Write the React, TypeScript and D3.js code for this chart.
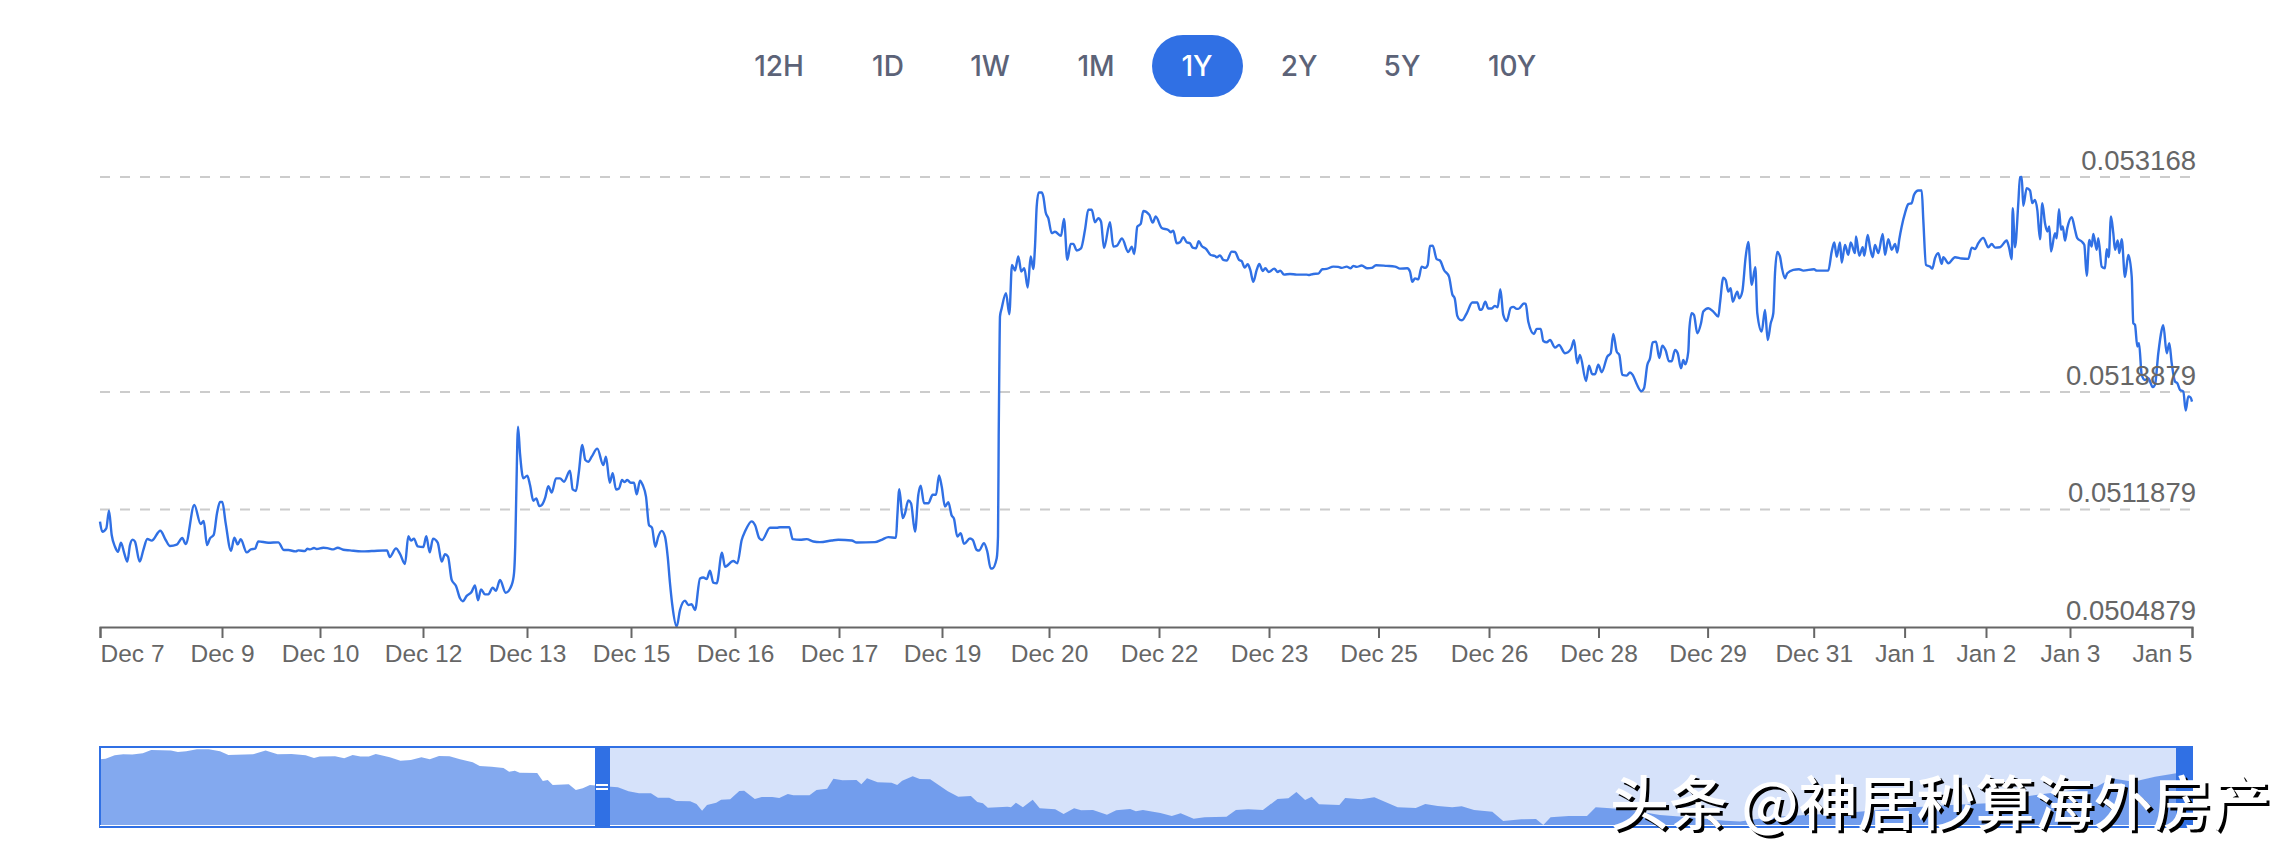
import { useEffect, useRef } from "react";
import * as d3 from "d3";

const ranges = ["12H", "1D", "1W", "1M", "1Y", "2Y", "5Y", "10Y"];
const activeRange = "1Y";
const yTicks = [0.0504879, 0.0511879, 0.0518879, 0.053168];
const yTickLabels = ["0.0504879", "0.0511879", "0.0518879", "0.053168"];

// x is in steps of about 20 minutes since the start of the window
const xTicks = [0, 122, 220, 323, 427, 531, 635, 739, 842, 949, 1059, 1169, 1278.5, 1389, 1498.5, 1607.6, 1713.7, 1804.6, 1886, 1970, 2092];
const xTickLabels = ["Dec 7", "Dec 9", "Dec 10", "Dec 12", "Dec 13", "Dec 15", "Dec 16", "Dec 17", "Dec 19", "Dec 20", "Dec 22", "Dec 23", "Dec 25", "Dec 26", "Dec 28", "Dec 29", "Dec 31", "Jan 1", "Jan 2", "Jan 3", "Jan 5"];

// [step, rate in millionths]
const rateDec7 = [[0,51115],[2.3,51055],[6.3,51075],[9,51180],[11.7,51036],[15,50966],[18,50936],[21,50990],[24.3,50926],[27.3,50877],[30,50976],[32.7,51008],[35,50996],[39.7,50877],[43.3,50946],[47.3,51012],[51.7,51002],[60.3,51061],[65.7,51006],[70,50970],[76.7,50978],[82.3,51018],[85.7,50982],[94.3,51214],[100.7,51101],[103.7,51119],[107,50976],[110,51016],[113.7,51036],[117,51165],[120,51232],[122.3,51232],[125.7,51105],[131,50942],[134.3,51020],[137.7,50980],[140.7,51010],[146.7,50932],[151,50950],[155,50954],[158.3,50998],[168.3,50990],[178.3,50992],[184,50946],[188.3,50946],[195.7,50938],[198.3,50944],[205,50940],[207.3,50954],[210,50950],[214,50958],[216.7,50952],[223.3,50960],[228.3,50956],[233.3,50950],[237.7,50960],[243.3,50948],[250,50944],[261.7,50938],[271.7,50940],[287,50944],[289.7,50905],[296,50956],[300,50923],[305,50863],[308.3,51028],[311,51002],[314,51014],[317.7,50968],[323.3,50964],[326.3,51028],[329.7,50932],[333,51014],[337.7,50990],[341.7,50877]];
const rateDec12 = [[345,50921],[348,50907],[351.7,50768],[356,50732],[360,50659],[362.7,50641],[366.7,50673],[371.7,50698],[375,50736],[378,50647],[381,50712],[385,50682],[388.3,50682],[392.7,50722],[396,50704],[400,50768],[405.7,50692],[411.7,50738],[414,50807],[415.3,50986],[416.3,51284],[418,51681],[420,51522],[423.3,51373],[427.3,51389],[430,51333],[433.3,51240],[436.3,51254],[439.3,51208],[441.7,51214],[445.3,51260],[448.3,51327],[451.7,51288],[456,51373],[460,51373],[464,51353],[470,51419],[472.7,51307],[476,51298],[478.7,51403],[482.3,51572],[485.3,51482],[488.3,51472],[491.7,51502],[497.3,51550],[503.3,51452],[506,51502],[509.7,51347],[512.7,51403],[516,51307],[519,51313],[522,51363],[524.3,51351],[527.3,51363],[530.7,51347],[534,51347],[536.7,51278],[540,51359],[542.7,51333],[546,51264],[549,51095],[552,51079],[555.3,50966],[558.3,51026],[561.7,51060],[565,51026],[567.7,50907],[570,50748],[572.3,50619],[576.7,50490],[580,50589],[585,50645],[588.3,50619],[591.7,50623],[595,50589],[600,50777],[603.3,50783],[606.7,50773],[610,50823],[613.3,50752],[616.7,50748],[622,50930],[625,50847],[633.3,50881],[637.3,50867],[641.7,51006],[645,51056],[651.7,51117],[655,51095],[659.3,51016],[662,51006],[670,51079],[676.7,51079]];
const rateDec16 = [[680,51082],[689.3,51082],[692.7,51011],[700,51007],[706.7,51011],[713.3,50997],[720,50993],[731.7,51003],[738.3,51007],[751.7,51003],[756.7,50991],[775,50993],[781.7,51007],[788.3,51023],[796,51019],[797.3,51146],[799.3,51308],[802.7,51136],[805,51165],[808.3,51241],[811,51225],[815,51056],[818.3,51275],[820.7,51330],[824,51225],[828.3,51225],[832.7,51275],[836,51275],[839,51390],[841.7,51324],[845,51205],[848.3,51231],[851.7,51152],[854,51132],[857.3,51026],[860.7,51046],[864,50983],[870,51015],[872.7,51007],[876.7,50947],[879,50943],[884,50987],[887.3,50937],[890.7,50836],[892.3,50836],[896.7,50897],[898,51026],[898.7,51622],[899.3,52019],[900,52337],[901.7,52386],[906,52476],[909.3,52350],[912,52644],[915,52611],[918.3,52694],[921.3,52605],[924.3,52624],[927.7,52509],[930.7,52694],[933.3,52620],[935,52753],[936.7,52992],[938.7,53075],[941.7,53075],[943.3,53051],[945.7,52956],[948.3,52922],[951.7,52833],[955,52841],[961,52817],[964,52918],[967.3,52674],[970.7,52769],[973.3,52769],[976.7,52730],[981,52742],[985,52853],[988.3,52972],[991.7,52972],[995,52898],[998.3,52922],[1001,52902],[1004,52744],[1010,52898],[1013.3,52753],[1016.7,52757],[1022,52801],[1028.3,52720]];
const rateDec22 = [[1031.7,52753],[1034.3,52709],[1037.3,52872],[1040.7,52888],[1043.3,52965],[1049.3,52942],[1052.7,52896],[1055.7,52932],[1061.7,52864],[1068.3,52852],[1070.7,52838],[1073.3,52848],[1076.7,52773],[1080,52779],[1083.3,52809],[1086.7,52779],[1090,52773],[1092.7,52747],[1096,52743],[1098.7,52785],[1101.7,52757],[1106,52739],[1110.7,52703],[1115,52697],[1116.7,52689],[1120,52701],[1123.3,52674],[1126.7,52670],[1131.7,52723],[1135,52721],[1139,52674],[1141.7,52666],[1144.7,52628],[1147.7,52648],[1150.3,52614],[1153.3,52543],[1156.7,52614],[1159.3,52650],[1162.7,52608],[1165.3,52624],[1168.7,52602],[1174.3,52622],[1177.7,52602],[1180.3,52610],[1184,52586],[1190,52590],[1196.7,52586],[1206.7,52586],[1209.3,52584],[1213.3,52590],[1218.3,52592],[1222.3,52618],[1226.7,52620],[1233.3,52634],[1238.3,52632],[1241.7,52626],[1246.7,52634],[1250.7,52624],[1253.3,52638],[1256.7,52632],[1261.7,52640],[1267.3,52624],[1271.7,52626],[1276,52642],[1286.7,52638],[1295,52634],[1300,52622],[1307.3,52624],[1310,52604],[1312.3,52543],[1315,52564],[1318.3,52558],[1321.7,52634],[1325,52626],[1327.7,52644],[1330,52757],[1332.7,52759],[1336.7,52678],[1340,52670],[1344,52614],[1349,52574],[1352.3,52469],[1354.7,52445],[1357.3,52340],[1360,52316],[1362,52314],[1366.7,52356],[1372.3,52420],[1377.3,52420],[1380,52376],[1382,52380],[1385.3,52425],[1388.3,52384],[1391.7,52384],[1394.7,52400],[1397.7,52392],[1400.3,52499],[1403.3,52346],[1406.7,52310],[1410.7,52388],[1413.3,52394],[1416.7,52382]];
const rateDec26 = [[1418.3,52382],[1424,52414],[1425.7,52412],[1428.3,52306],[1434,52233],[1436.7,52263],[1440.7,52263],[1443.3,52191],[1446.7,52183],[1450,52197],[1455,52152],[1459,52167],[1465,52118],[1471,52144],[1474,52195],[1477.3,52058],[1480,52108],[1486,51953],[1489,52044],[1492.3,51993],[1495,51993],[1498.3,52050],[1501.7,52005],[1507.3,52098],[1510.7,52118],[1513.3,52233],[1516.7,52128],[1519.3,52108],[1522.3,51989],[1526.7,51985],[1530,52003],[1532.7,51989],[1536.7,51935],[1541.3,51892],[1544,51909],[1547.3,52048],[1550,52088],[1552.7,52183],[1556,52187],[1559.3,52090],[1562.3,52163],[1565.7,52134],[1569,52070],[1571.7,52070],[1575,52138],[1577.7,52118],[1581,52028],[1583.3,52078],[1585.3,52052],[1588.3,52128],[1589.3,52257],[1591.7,52356],[1594,52346],[1597.3,52237],[1601,52296],[1603.3,52366],[1608.3,52386],[1613.3,52366],[1618.3,52336],[1620,52416],[1623.3,52568],[1625.7,52554],[1628.3,52485],[1630.7,52505],[1632.7,52425],[1637.3,52485],[1639.3,52445],[1642.3,52485],[1645.7,52693],[1648.3,52781],[1651.7,52525],[1655.3,52630],[1657.3,52356],[1661.7,52247],[1665,52376],[1667.7,52197],[1670.7,52296],[1673.3,52356],[1675,52594],[1677.3,52721],[1680,52693],[1682,52624],[1685,52564],[1687.3,52594],[1693.3,52614],[1699,52618],[1703.3,52610],[1714,52618],[1716.7,52610],[1728.3,52610],[1731.7,52723],[1734.3,52777],[1736.7,52693],[1740,52777]];
const rateDec31 = [[1741.7,52658],[1745,52763],[1748.3,52704],[1750.7,52777],[1755,52714],[1756,52813],[1759.3,52698],[1762.7,52749],[1764.3,52698],[1767.7,52823],[1770,52749],[1772.7,52690],[1775,52763],[1778.3,52714],[1782.7,52829],[1785,52704],[1788.3,52797],[1791.7,52734],[1795,52769],[1797.3,52718],[1799.3,52797],[1801.7,52873],[1805,52952],[1808.3,53006],[1811.7,53012],[1814,53061],[1818.3,53087],[1821.7,53087],[1823.3,52912],[1826,52644],[1830,52634],[1832.3,52622],[1835,52684],[1838.3,52714],[1841.7,52650],[1843.3,52690],[1848.3,52654],[1855,52690],[1861.7,52682],[1868.3,52680],[1871.7,52747],[1875,52738],[1878.3,52773],[1883.3,52805],[1888.3,52749],[1891.7,52769],[1895,52747],[1900,52749],[1906.7,52789],[1909,52749],[1911.7,52678],[1912.7,52982],[1915,52749],[1918.3,53012],[1920,53166],[1921.7,53168],[1923.3,52996],[1926.7,53101],[1930,53087],[1932.3,53012],[1935,53031],[1937.3,52972],[1940,52797],[1942.3,53012],[1945,52892],[1947.3,52843],[1949.3,52873],[1951,52724],[1955,52833],[1956.7,52803],[1959,52976],[1961,52853],[1962.7,52873],[1965,52789],[1967.3,52863],[1971.7,52928],[1975,52853],[1977.3,52803],[1981.7,52783],[1984.3,52763],[1986.7,52579],[1989.3,52793],[1991.7,52753],[1993.3,52829],[1996.7,52734],[1998.3,52803],[2001.7,52634],[2005,52624],[2006.7,52738],[2008.7,52690],[2011,52932],[2013.3,52833],[2015,52734],[2017.7,52789],[2019.3,52714],[2021.7,52797],[2025,52571],[2028.3,52704],[2031.7,52575],[2033.3,52297],[2035,52287],[2037.3,52158],[2039,52178],[2041.7,51989],[2045,51959],[2048.3,51969],[2052.7,51916],[2055,51930],[2058.3,52118],[2061.7,52257],[2063.3,52285],[2066.7,52118],[2069.3,52178],[2071.7,52059],[2075,51950],[2077.3,51940],[2080,51900],[2083.3,51890],[2085.7,51777],[2088.3,51860],[2090.7,51854],[2092,51830]];
const rateSamples = [...rateDec7, ...rateDec12, ...rateDec16, ...rateDec22, ...rateDec26, ...rateDec31];

// navigator overview, level from 0 to 100
const overviewLeft = [[0,85.3],[5.6,86.2],[14.7,90.5],[23.2,91.8],[32.3,91.4],[42.8,93.1],[51.2,97.4],[61.8,97],[70.9,96.6],[77.9,94.8],[86.3,95.7],[96.9,98.3],[108.8,98.3],[120,95.7],[128.4,90.9],[153,91.8],[165.6,96.6],[177.6,91.8],[191.6,92.2],[205.6,90.5],[214,87],[219.7,88.8],[235.1,89.2],[244.2,86.6],[252.7,90.9],[260.4,88.8],[268.8,88.8],[275.8,92.2],[289.8,87.9],[300.4,83.6],[310.9,84.4],[321.4,87.9],[329.8,85.3],[339,89.6],[349.5,89.2],[360,85.3],[372.7,81.4],[379.7,76.6],[391.6,75.8],[403.5,74],[409.1,69.3],[414.8,70.6],[419.7,68],[437.2,67.6],[442.8,57.2],[447.8,58.5],[452.7,52],[468.8,52.8],[475.8,45.5],[482.8,47.6],[489.9,52]];
const overviewMiddle = [[510.9,49.8],[517.9,48.9],[528.5,43.7],[539,41.1],[550.9,41.1],[557.9,35.5],[569.2,35.5],[576.2,31.2],[590.2,30.8],[596.5,27.3],[602.1,18.6],[607,26],[616.2,29],[621.1,32.9],[630.2,33.4],[639.3,44.2],[644.2,44.6],[654.8,33.8],[661.8,36.4],[672.3,36.4],[679.3,35.1],[687.8,40.3],[693.4,38.6],[709.5,38.6],[716.5,45.5],[727.1,47.2],[733.4,60.2],[742.5,58],[756.5,58.5],[761.4,52.8],[767,60.6],[777.6,55.4],[791.6,55],[797.2,52],[802.2,57.6],[812.7,63.2],[819.7,59.8],[830.2,59.3],[847.8,43.7],[858.3,36.8],[870.9,37.7],[877.3,29.9],[882.9,28.2],[887.8,22.5],[907.4,23.8],[911,23],[915.9,29],[922.9,23],[932.7,32.9],[939.7,21.7],[955.2,20.4],[963.6,14.3],[974.1,21.7],[981.1,19.1],[993,19.5],[1007,13.4],[1016.2,19.1],[1030.2,20.8],[1035.9,17.8],[1042.9,19.5],[1060.4,15.6]];
const overviewRight = [[1071.8,11.7],[1080.6,15.2],[1093.7,8.2],[1104.6,10],[1126.5,10.8],[1135.9,19.5],[1148.3,20.4],[1162.9,19.5],[1177.5,33.8],[1188.4,34.7],[1196.4,42.9],[1205.1,32.5],[1211.7,36.8],[1219,26.9],[1239.4,26],[1245.2,35.1],[1261.2,33.4],[1274.3,36],[1297.6,23],[1315.8,22.1],[1325.3,27.3],[1337.7,24.7],[1352.2,23],[1361.7,24.3],[1374.1,19.5],[1392.3,17.3],[1403.2,5.2],[1421.4,7.4],[1436,7.8],[1443.3,0],[1450.6,10],[1468.8,11.7],[1487,11.7],[1495.7,23],[1510.3,21.7],[1530.7,19.5],[1559.8,13],[1589,10],[1625.4,5.6],[1640,4.4],[1669,10],[1705.5,13],[1741.9,15.2],[1778.3,19.5],[1814.7,23],[1851.1,26],[1887.5,28.2],[1924,36.8],[1960.4,43.3],[1996.8,49.8],[2011.4,60.6],[2033.2,56.3],[2055,62.8],[2076.2,67.1],[2092,69.3]];
const overviewSamples = [...overviewLeft, ...overviewMiddle, ...overviewRight];
const brushWindow = [510, 2076];

const rangeCenters = [779, 888, 990, 1096, 1197, 1299, 1402, 1512];
const BLUE = "#3070e4";
const LABEL = "'Liberation Sans', Arial, sans-serif";

export default function App() {
  const axisRef = useRef<SVGGElement>(null);

  const x = d3.scaleLinear().domain([0, 2092]).range([100, 2192]);
  const y = d3.scaleLinear().domain([0.0504879, 0.053168]).range([627, 176.9]);
  const navY = d3.scaleLinear().domain([0, 100]).range([825, 748]);

  const rateLine = d3
    .line<number[]>()
    .x((d) => x(d[0]))
    .y((d) => y(d[1] / 1e6))
    .curve(d3.curveMonotoneX);

  const overviewArea = d3
    .area<number[]>()
    .x((d) => x(d[0]))
    .y0(navY(0))
    .y1((d) => navY(d[1]))
    .curve(d3.curveLinear);

  useEffect(() => {
    const axis = d3.select(axisRef.current);
    axis.selectAll("*").remove();
    axis.call(
      d3
        .axisBottom(x)
        .tickValues(xTicks)
        .tickFormat((_, i) => xTickLabels[i])
        .tickSize(11)
        .tickPadding(7) as any
    );
    axis.select(".domain").attr("stroke", "#666").attr("stroke-width", 2);
    axis.selectAll(".tick line").attr("stroke", "#666").attr("stroke-width", 2);
    axis
      .selectAll(".tick text")
      .attr("fill", "#666")
      .style("font-size", "24.5px")
      .style("font-family", LABEL)
      .attr("text-anchor", (_, i) =>
        i === 0 ? "start" : i === xTicks.length - 1 ? "end" : "middle"
      );
  }, []);

  return (
    <svg
      width={2292}
      height={860}
      style={{ position: "absolute", left: 0, top: 0, background: "#fff" }}
    >
      {/* range buttons */}
      <rect x={1152} y={35} width={91} height={62} rx={31} fill={BLUE} />
      {ranges.map((r, i) => (
        <text
          key={r}
          x={rangeCenters[i]}
          y={76}
          textAnchor="middle"
          fontFamily="Inter, sans-serif"
          fontWeight={500}
          fontSize={28}
          fill={r === activeRange ? "#fff" : "#5c6378"}
        >
          {r}
        </text>
      ))}

      {/* grid */}
      {yTicks.slice(1).map((t) => (
        <line
          key={t}
          x1={x(0)}
          x2={x(2092)}
          y1={y(t)}
          y2={y(t)}
          stroke="#ccc"
          strokeWidth={2}
          strokeDasharray="10 10"
        />
      ))}

      <path
        d={rateLine(rateSamples) ?? ""}
        fill="none"
        stroke={BLUE}
        strokeWidth={2.4}
        strokeLinejoin="round"
      />

      <g ref={axisRef} transform={`translate(0,${y(yTicks[0])})`} />

      {yTicks.map((t, i) => (
        <text
          key={t}
          x={2196}
          y={y(t) - 7}
          textAnchor="end"
          fontFamily={LABEL}
          fontSize={27.5}
          fill="#666"
        >
          {yTickLabels[i]}
        </text>
      ))}

      {/* navigator */}
      <path d={overviewArea(overviewSamples) ?? ""} fill={BLUE} fillOpacity={0.6} />
      <rect
        x={x(brushWindow[0])}
        y={747}
        width={x(brushWindow[1]) - x(brushWindow[0])}
        height={80}
        fill={BLUE}
        fillOpacity={0.2}
      />
      <rect x={x(0)} y={747} width={x(2092) - x(0)} height={80} fill="none" stroke={BLUE} strokeWidth={2} />
      <line x1={x(0)} x2={x(2092)} y1={825.5} y2={825.5} stroke="#fff" strokeWidth={1} />
      <rect x={x(brushWindow[0]) - 15} y={746} width={15} height={82} fill={BLUE} />
      <rect x={x(brushWindow[1])} y={746} width={17} height={82} fill={BLUE} />
      <rect x={x(brushWindow[0]) - 14} y={784} width={12} height={2} fill="#fff" />
      <rect x={x(brushWindow[0]) - 14} y={788} width={12} height={2} fill="#fff" />

      {/* watermark */}
      <g fontFamily="'Noto Sans CJK SC', sans-serif" fontWeight={500} fontSize={59}>
        <text x={1613} y={828} fill="#000">头条 @神居秒算海外房产</text>
        <text x={1610} y={825} fill="#fff">头条 @神居秒算海外房产</text>
      </g>
    </svg>
  );
}
